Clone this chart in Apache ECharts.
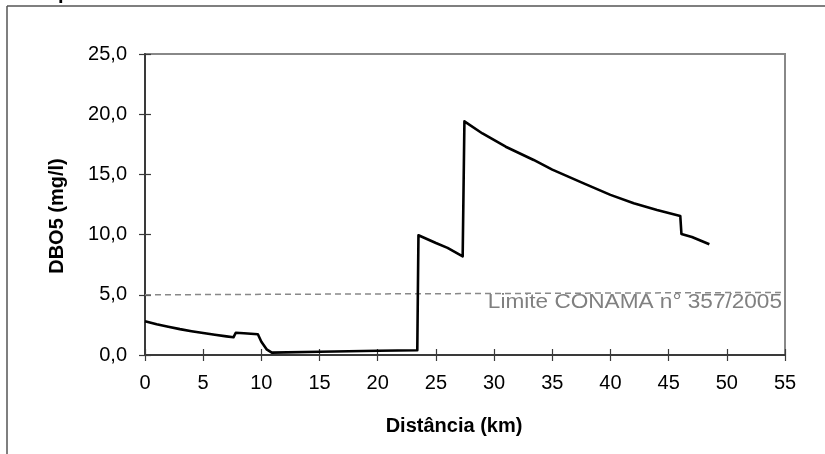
<!DOCTYPE html>
<html>
<head>
<meta charset="utf-8">
<script src="https://cdn.jsdelivr.net/npm/echarts@6/dist/echarts.min.js"></script>
<style>html,body{margin:0;padding:0;background:#fff;}#c{width:825px;height:454px;}</style>
</head>
<body>
<div id="c"></div>
<script>
// Data
var distance = [0, 1, 2, 3, 4, 5, 6, 7, 7.6, 7.8, 8.5, 9.7, 10.0, 10.45, 10.9, 15, 20, 23.4, 23.5, 25, 26, 27.3, 27.45, 29, 31, 33.4, 35, 37.7, 40, 42, 44, 46.0, 46.1, 47, 48.5];
var dbo5     = [2.8, 2.55, 2.35, 2.15, 1.98, 1.82, 1.68, 1.55, 1.47, 1.85, 1.8, 1.72, 1.1, 0.47, 0.2, 0.27, 0.35, 0.4, 9.95, 9.3, 8.9, 8.2, 19.4, 18.4, 17.3, 16.2, 15.4, 14.25, 13.3, 12.6, 12.05, 11.55, 10.05, 9.8, 9.2];
var limitX = [0, 55];
var limitY = [5.0, 5.2];
var xTicks = {min: 0, max: 55, interval: 5};
var yTicks = {min: 0, max: 25, interval: 5};
var xTitle = 'Distância (km)';
var yTitle = 'DBO5 (mg/l)';
var limitLabel = 'Limite CONAMA n° 357/2005';
var topText = 'campo';

var mainData = distance.map(function (d, i) { return [d, dbo5[i]]; });
var limitData = limitX.map(function (d, i) { return [d, limitY[i]]; });

var chart = echarts.init(document.getElementById('c'), null, {renderer: 'canvas'});
var tickFont = 'Liberation Sans';
var axisCol = '#3a3a3a';
function commaFmt(v) { return v.toFixed(1).replace('.', ','); }

chart.setOption({
  animation: false,
  backgroundColor: '#ffffff',
  grid: {left: 145, top: 54, right: 40, bottom: 99, show: true, borderColor: '#888888', borderWidth: 2, backgroundColor: 'transparent'},
  xAxis: [{
    type: 'value', min: xTicks.min, max: xTicks.max, interval: xTicks.interval,
    axisLine: {show: true, onZero: false, lineStyle: {color: axisCol, width: 2}},
    axisTick: {show: true, length: 6, lineStyle: {color: axisCol, width: 1.2}},
    axisLabel: {margin: 18, color: '#000', fontFamily: tickFont, fontSize: 20},
    splitLine: {show: false}
  }, {
    type: 'value', position: 'bottom', min: xTicks.min, max: xTicks.max, interval: xTicks.interval,
    axisLine: {show: false, onZero: false},
    axisTick: {show: true, inside: true, length: 6, lineStyle: {color: axisCol, width: 1.2}},
    axisLabel: {show: false}, splitLine: {show: false}
  }],
  yAxis: [{
    type: 'value', min: yTicks.min, max: yTicks.max, interval: yTicks.interval,
    axisLine: {show: true, onZero: false, lineStyle: {color: axisCol, width: 2}},
    axisTick: {show: true, length: 6, lineStyle: {color: axisCol, width: 1.2}},
    axisLabel: {margin: 18, color: '#000', fontFamily: tickFont, fontSize: 20, formatter: commaFmt},
    splitLine: {show: false}
  }, {
    type: 'value', position: 'left', min: yTicks.min, max: yTicks.max, interval: yTicks.interval,
    axisLine: {show: false, onZero: false},
    axisTick: {show: true, inside: true, length: 6, lineStyle: {color: axisCol, width: 1.2}},
    axisLabel: {show: false}, splitLine: {show: false}
  }],
  series: [{
    type: 'line', name: 'Limite', data: limitData, xAxisIndex: 0, yAxisIndex: 0,
    symbol: 'none', silent: true,
    lineStyle: {color: '#888888', width: 1.5, type: [6, 4]}
  }, {
    type: 'line', name: 'DBO5', data: mainData, xAxisIndex: 0, yAxisIndex: 0,
    symbol: 'none', smooth: false,
    lineStyle: {color: '#000000', width: 2.6, join: 'round'}
  }],
  graphic: [
    {type: 'line', shape: {x1: 7, y1: 6, x2: 825, y2: 6}, style: {stroke: '#555555', lineWidth: 1.5}},
    {type: 'line', shape: {x1: 7, y1: 6, x2: 7, y2: 454}, style: {stroke: '#555555', lineWidth: 1.5}},
    {type: 'text', left: 18, top: -17, style: {text: topText, fontFamily: 'Liberation Sans', fontWeight: 'bold', fontSize: 20, fill: '#000'}},
    {type: 'text', x: 454, y: 426, style: {text: xTitle, fontFamily: 'Liberation Sans', fontWeight: 'bold', fontSize: 20, fill: '#000', align: 'center', verticalAlign: 'middle'}},
    {type: 'text', x: 57, y: 216, rotation: Math.PI / 2, style: {text: yTitle, fontFamily: 'Liberation Sans', fontWeight: 'bold', fontSize: 20, fill: '#000', align: 'center', verticalAlign: 'middle'}},
    {type: 'text', x: 782, y: 302, scaleX: 1.13, style: {text: limitLabel, fontFamily: 'Liberation Sans', fontSize: 20, fill: '#808080', align: 'right', verticalAlign: 'middle'}}
  ]
});
</script>
</body>
</html>
